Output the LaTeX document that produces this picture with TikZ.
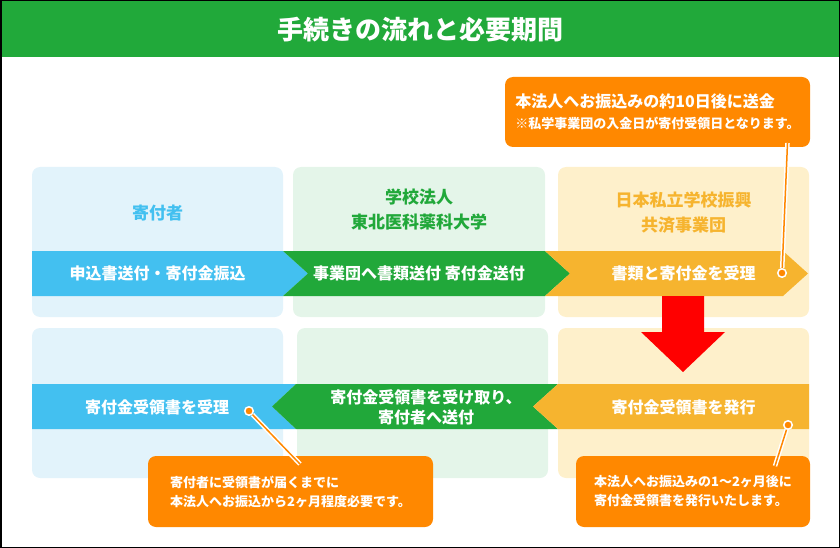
\documentclass[tikz,border=0pt]{standalone}
\usepackage{fontspec}
\newfontfamily\jp{Noto Sans CJK JP}
\definecolor{titlegreen}{RGB}{33,169,58}
\definecolor{bandblue}{RGB}{67,192,240}
\definecolor{bandgreen}{RGB}{33,168,58}
\definecolor{bandorange}{RGB}{246,180,47}
\definecolor{paleblue}{RGB}{226,243,251}
\definecolor{palegreen}{RGB}{228,245,233}
\definecolor{paleorange}{RGB}{254,240,203}
\definecolor{noteorange}{RGB}{255,136,0}
\tikzset{
  panel/.style={rounded corners=8pt, minimum width=251pt, minimum height=150pt, inner sep=0pt},
  headtext/.style={font=\jp\bfseries\fontsize{17}{25}\selectfont, align=center},
  bandtext/.style={text=white, font=\jp\bfseries\fontsize{16}{19.5}\selectfont, align=center},
  notebox/.style={fill=noteorange, rounded corners=8pt, text=white, align=left, inner sep=0pt,
    font=\jp\bfseries\fontsize{13}{19}\selectfont},
  pindot/.style={circle, fill=noteorange, draw=white, line width=1.5pt, inner sep=0pt, minimum size=8.5pt},
  leader/.style={draw=noteorange, line width=1.5pt, preaction={draw=white, line width=4.5pt}}
}

\begin{document}
\begin{tikzpicture}[x=1pt,y=-1pt]
  \useasboundingbox (0,0) rectangle (840,548);
  % title bar
  \fill[titlegreen] (0,0) rectangle (840,57);
  \node[text=white, font=\jp\bfseries\fontsize{26}{30}\selectfont] (title) at (420,30) {手続きの流れと必要期間};

  % columns, upper and lower row
  \node[panel, fill=paleblue] (donorA) at (157.5,242) {};
  \node[panel, fill=palegreen, minimum width=252pt] (schoolA) at (419,242) {};
  \node[panel, fill=paleorange] (fundA) at (683.5,242) {};
  \node[panel, fill=paleblue] (donorB) at (157.5,403) {};
  \node[panel, fill=palegreen] (schoolB) at (422.5,403) {};
  \node[panel, fill=paleorange] (fundB) at (683.5,403) {};

  \node[headtext, text=bandblue] (donorname) at (157.5,213) {寄付者};
  \node[headtext, text=bandgreen] (schoolname) at (419,210) {学校法人\\東北医科薬科大学};
  \node[headtext, text=bandorange] (fundname) at (683.5,212.5) {日本私立学校振興\\共済事業団};

  % upper band
  \fill[bandblue] (32,251) -- (283,251) -- (308,273.5) -- (283,296) -- (32,296) -- cycle;
  \fill[bandgreen] (283,251) -- (545,251) -- (570,273.5) -- (545,296) -- (283,296) -- (308,273.5) -- cycle;
  \fill[bandorange] (545,251) -- (783,251) -- (808,273.5) -- (783,296) -- (545,296) -- (570,273.5) -- cycle;
  \node[bandtext] (apply) at (157.5,273.5) {申込書送付・寄付金振込};
  \node[bandtext] (send) at (419,273.5) {事業団へ書類送付 寄付金送付};
  \node[bandtext] (accept) at (683.5,273.5) {書類と寄付金を受理};

  % red turn arrow
  \fill[red] (662,296) -- (704,296) -- (704,332) -- (725,332) -- (683,372) -- (641,332) -- (662,332) -- cycle;

  % lower band
  \fill[bandblue] (32,384) -- (296,384) -- (272,406.5) -- (296,429) -- (32,429) -- cycle;
  \fill[bandgreen] (296,384) -- (558,384) -- (533,406.5) -- (558,429) -- (296,429) -- (272,406.5) -- cycle;
  \fill[bandorange] (558,384) -- (809,384) -- (809,429) -- (558,429) -- (533,406.5) -- cycle;
  \node[bandtext] (receipt) at (157,407) {寄付金受領書を受理};
  \node[bandtext] (forward) at (426,407.5) {寄付金受領書を受け取り、\\寄付者へ送付};
  \node[bandtext] (issue) at (683.5,407) {寄付金受領書を発行};

  % callouts
  \node[notebox, minimum width=305pt, minimum height=70pt] (note1) at (657.5,112)
    {{\fontsize{16}{21}\selectfont 本法人へお振込みの約10日後に送金}\\[2pt]※私学事業団の入金日が寄付受領日となります。};
  \node[notebox, minimum width=285pt, minimum height=71pt] (note2) at (290.5,491.5)
    {寄付者に受領書が届くまでに\\本法人へお振込から2ヶ月程度必要です。};
  \node[notebox, minimum width=234pt, minimum height=71pt] (note3) at (693,491.5)
    {本法人へお振込みの1〜2ヶ月後に\\寄付金受領書を発行いたします。};

  \node[pindot] (pin1) at (782,273) {};
  \node[pindot] (pin2) at (249,411) {};
  \node[pindot] (pin3) at (788,425) {};
  \coordinate (tail1) at (787.5,143);
  \coordinate (tail2) at (300,464);
  \coordinate (tail3) at (775,466);
  \draw[leader] (tail1) -- (pin1);
  \draw[leader] (tail2) -- (pin2);
  \draw[leader] (tail3) -- (pin3);

  % frame
  \draw[line width=3pt] (0,0) rectangle (840,548);
\end{tikzpicture}
\end{document}
